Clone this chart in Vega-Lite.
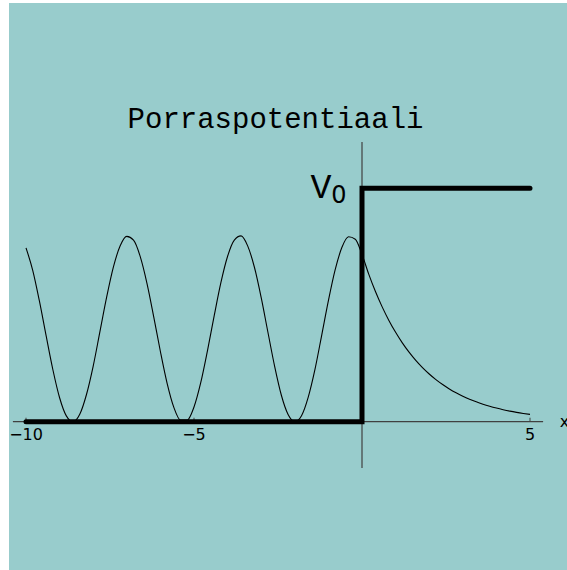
{
  "$schema": "https://vega.github.io/schema/vega-lite/v6.json",
  "width": 558,
  "height": 567,
  "padding": {"left": 9, "top": 3, "right": 0, "bottom": 0},
  "autosize": {"type": "none"},
  "background": "#ffffff",
  "config": {"view": {"fill": "#98cccc", "stroke": null}},
  "data": {"values": [{}]},
  "datasets": {
    "potential": [
      {"i": 0, "x": -10, "V": 0},
      {"i": 1, "x": 0, "V": 0},
      {"i": 2, "x": 0, "V": 1},
      {"i": 3, "x": 5, "V": 1}
    ],
    "density": [
      {"x": -10.0, "p": 0.7449}, {"x": -9.8, "p": 0.6486}, {"x": -9.6, "p": 0.5164},
      {"x": -9.4, "p": 0.3674}, {"x": -9.2, "p": 0.2226}, {"x": -9.0, "p": 0.1026},
      {"x": -8.8, "p": 0.0249}, {"x": -8.6, "p": 0.0001}, {"x": -8.4, "p": 0.0318},
      {"x": -8.2, "p": 0.1166}, {"x": -8.0, "p": 0.2384}, {"x": -7.8, "p": 0.3859},
      {"x": -7.6, "p": 0.5336}, {"x": -7.4, "p": 0.6621}, {"x": -7.2, "p": 0.7527},
      {"x": -7.0, "p": 0.7938}, {"x": -6.8, "p": 0.7775}, {"x": -6.6, "p": 0.7072},
      {"x": -6.4, "p": 0.5929}, {"x": -6.2, "p": 0.4506}, {"x": -6.0, "p": 0.3008},
      {"x": -5.8, "p": 0.1646}, {"x": -5.6, "p": 0.0615}, {"x": -5.4, "p": 0.0069},
      {"x": -5.2, "p": 0.0074}, {"x": -5.0, "p": 0.0630}, {"x": -4.8, "p": 0.1671},
      {"x": -4.6, "p": 0.3038}, {"x": -4.4, "p": 0.4535}, {"x": -4.2, "p": 0.5956},
      {"x": -4.0, "p": 0.7089}, {"x": -3.8, "p": 0.7780}, {"x": -3.6, "p": 0.7960},
      {"x": -3.4, "p": 0.7523}, {"x": -3.2, "p": 0.6606}, {"x": -3.0, "p": 0.5312},
      {"x": -2.8, "p": 0.3832}, {"x": -2.6, "p": 0.2371}, {"x": -2.4, "p": 0.1133},
      {"x": -2.2, "p": 0.0309}, {"x": -2.0, "p": 0.0000}, {"x": -1.8, "p": 0.0257},
      {"x": -1.6, "p": 0.1053}, {"x": -1.4, "p": 0.2242}, {"x": -1.2, "p": 0.3702},
      {"x": -1.0, "p": 0.5187}, {"x": -0.8, "p": 0.6502}, {"x": -0.6, "p": 0.7460},
      {"x": -0.4, "p": 0.7921}, {"x": -0.2, "p": 0.7818}, {"x": 0.0, "p": 0.7168},
      {"x": 0.2, "p": 0.6323}, {"x": 0.4, "p": 0.5578}, {"x": 0.6, "p": 0.4920},
      {"x": 0.8, "p": 0.4340}, {"x": 1.0, "p": 0.3829}, {"x": 1.2, "p": 0.3378},
      {"x": 1.4, "p": 0.2980}, {"x": 1.6, "p": 0.2628}, {"x": 1.8, "p": 0.2319},
      {"x": 2.0, "p": 0.2045}, {"x": 2.2, "p": 0.1804}, {"x": 2.4, "p": 0.1592},
      {"x": 2.6, "p": 0.1404}, {"x": 2.8, "p": 0.1239}, {"x": 3.0, "p": 0.1093},
      {"x": 3.2, "p": 0.0964}, {"x": 3.4, "p": 0.0850}, {"x": 3.6, "p": 0.0750},
      {"x": 3.8, "p": 0.0662}, {"x": 4.0, "p": 0.0584}, {"x": 4.2, "p": 0.0515},
      {"x": 4.4, "p": 0.0454}, {"x": 4.6, "p": 0.0401}, {"x": 4.8, "p": 0.0354},
      {"x": 5.0, "p": 0.0312}
    ],
    "ticks": [
      {"x": -10, "label": "−10"},
      {"x": -5, "label": "−5"},
      {"x": 5, "label": "5"}
    ]
  },
  "layer": [
    {
      "description": "horizontal axis line",
      "mark": {"type": "rule", "stroke": "#404040", "strokeWidth": 1.2},
      "encoding": {
        "x": {"datum": -10.39, "type": "quantitative", "scale": {"domain": [-10.506, 6.101], "nice": false, "zero": false}, "axis": null},
        "x2": {"datum": 5.39},
        "y": {"datum": 0, "type": "quantitative", "scale": {"domain": [-0.6354, 1.7939], "nice": false, "zero": false}, "axis": null}
      }
    },
    {
      "description": "vertical axis line",
      "mark": {"type": "rule", "stroke": "#404040", "strokeWidth": 1.2},
      "encoding": {
        "x": {"datum": 0, "type": "quantitative"},
        "y": {"datum": -0.198, "type": "quantitative"},
        "y2": {"datum": 1.198}
      }
    },
    {
      "description": "tick marks",
      "data": {"name": "ticks"},
      "mark": {"type": "rule", "stroke": "#404040", "strokeWidth": 1},
      "encoding": {
        "x": {"field": "x", "type": "quantitative"},
        "y": {"datum": 0, "type": "quantitative"},
        "y2": {"datum": 0.017}
      }
    },
    {
      "description": "tick labels",
      "data": {"name": "ticks"},
      "mark": {"type": "text", "font": "DejaVu Sans", "fontSize": 16, "align": "center", "baseline": "alphabetic", "dy": 18.3, "color": "#000000"},
      "encoding": {
        "x": {"field": "x", "type": "quantitative"},
        "y": {"datum": 0, "type": "quantitative"},
        "text": {"field": "label"}
      }
    },
    {
      "description": "axis name",
      "mark": {"type": "text", "font": "DejaVu Sans", "fontSize": 16, "align": "left", "baseline": "alphabetic", "dy": 5, "color": "#000000", "text": "x"},
      "encoding": {
        "x": {"datum": 5.884, "type": "quantitative"},
        "y": {"datum": 0, "type": "quantitative"}
      }
    },
    {
      "description": "probability density",
      "data": {"name": "density"},
      "mark": {"type": "line", "stroke": "#000000", "strokeWidth": 1.1, "interpolate": "monotone"},
      "encoding": {
        "x": {"field": "x", "type": "quantitative"},
        "y": {"field": "p", "type": "quantitative"}
      }
    },
    {
      "description": "step potential",
      "data": {"name": "potential"},
      "mark": {"type": "line", "stroke": "#000000", "strokeWidth": 5, "strokeCap": "round", "strokeJoin": "miter"},
      "encoding": {
        "x": {"field": "x", "type": "quantitative"},
        "y": {"field": "V", "type": "quantitative"},
        "order": {"field": "i"}
      }
    },
    {
      "description": "title",
      "mark": {"type": "text", "font": "Liberation Mono", "fontSize": 29, "align": "center", "baseline": "alphabetic", "color": "#000000", "text": "Porraspotentiaali"},
      "encoding": {
        "x": {"datum": -2.574, "type": "quantitative"},
        "y": {"datum": 1.257, "type": "quantitative"}
      }
    },
    {
      "description": "barrier height label V",
      "mark": {"type": "text", "font": "Liberation Mono", "fontSize": 35, "align": "center", "baseline": "alphabetic", "color": "#000000", "text": "V"},
      "encoding": {
        "x": {"datum": -1.22, "type": "quantitative"},
        "y": {"datum": 0.957, "type": "quantitative"}
      }
    },
    {
      "description": "barrier height label subscript",
      "mark": {"type": "text", "font": "DejaVu Sans", "fontSize": 24, "align": "center", "baseline": "alphabetic", "color": "#000000", "text": "0"},
      "encoding": {
        "x": {"datum": -0.685, "type": "quantitative"},
        "y": {"datum": 0.937, "type": "quantitative"}
      }
    }
  ]
}
